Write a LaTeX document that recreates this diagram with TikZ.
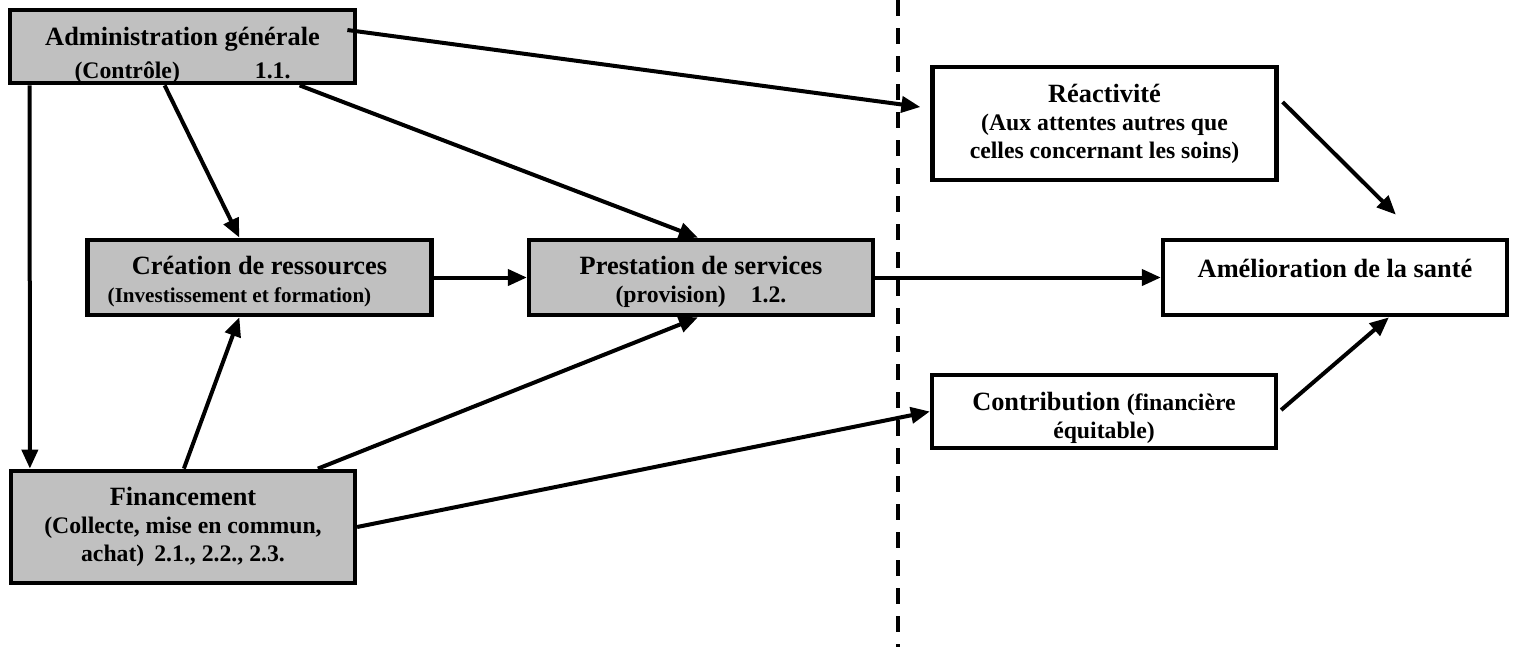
\documentclass[tikz,border=0pt]{standalone}
\usepackage{fontspec}
\setmainfont{Liberation Serif}
\usepackage{tikz}
\usetikzlibrary{arrows.meta,calc}
\definecolor{gris}{HTML}{C0C0C0}
\newcommand\sousfont{\fontsize{13.5}{16}\selectfont}
% texte abaisse dans sa boite
\newcommand\abaisse[2]{\raisebox{-#1}[\height][\depth]{\begin{tabular}{@{}c@{}}#2\end{tabular}}}
\tikzset{
 boite/.style={draw=black,line width=0.85mm,align=center,minimum width=68.8mm,
   minimum height=15.1mm,inner sep=2pt,fill=white,font=\bfseries\fontsize{15}{16}\selectfont},
 grisbox/.style={boite,fill=gris},
 fleche/.style={-{Triangle[length=3.8mm,width=3.2mm]},line width=0.8mm,draw=black},
 tirets/.style={line width=0.85mm,dash pattern=on 3.2mm off 2.4mm}
}
\begin{document}
\begin{tikzpicture}[x=0.2mm,y=-0.2mm]
 \useasboundingbox (0,0) rectangle (1517,647);
 % frontiere
 \coordinate (haut) at (898,0);
 \coordinate (bas) at (898,647);
 \draw[tirets] (haut) -- (bas);
 % fonctions
 \node[grisbox,minimum width=69.1mm,minimum height=14.7mm] (admin) at (182.5,46.5)
   {\abaisse{2mm}{Administration générale\\[3pt]{\sousfont (Contrôle)\hspace{15mm}1.1.}}};
 \node[grisbox] (crea) at (259.5,277.5)
   {\abaisse{1mm}{Création de ressources\\{\fontsize{12}{16}\selectfont (Investissement et formation)\hspace*{8mm}}}};
 \node[grisbox] (prest) at (701,277.5)
   {\abaisse{1mm}{Prestation de services\\{\sousfont (provision)\hspace{5mm}1.2.}}};
 \node[grisbox,minimum height=22.5mm] (fin) at (183,527)
   {Financement\\{\sousfont (Collecte, mise en commun,}\\{\sousfont achat)\hspace{2mm}2.1., 2.2., 2.3.}};
 % objectifs
 \node[boite,minimum height=22.7mm] (reac) at (1104.5,123.5)
   {Réactivité\\{\sousfont (Aux attentes autres que}\\{\sousfont celles concernant les soins)}};
 \node[boite] (amel) at (1335,277.5) {Amélioration de la santé\\[-5pt]\mbox{}};
 \node[boite,minimum height=14.7mm] (contrib) at (1104,411.5)
   {\abaisse{1.4mm}{Contribution {\sousfont (financière}\\{\sousfont équitable)}}};
 % liens
 \draw[fleche] ($(admin.south west)+(22,0)$) -- ($(fin.north west)+(21,0)$);
 \draw[fleche] ($(admin.south west)+(157,0)$) -- ($(crea.north west)+(154,0)$);
 \draw[fleche] ($(admin.south west)+(292,0)$) -- ($(prest.north west)+(171,0)$);
 \draw[fleche] ($(admin.east)+(-10,-16.5)$) -- ($(reac.west)+(-10,-16.5)$);
 \draw[fleche] (crea) -- (prest);
 \draw[fleche] ($(fin.north west)+(175,0)$) -- ($(crea.south west)+(154,0)$);
 \draw[fleche] ($(fin.north west)+(309,0)$) -- ($(prest.south west)+(171,0)$);
 \draw[fleche] (fin.east) -- (contrib.west);
 \draw[fleche] (prest) -- (amel);
 \draw[fleche] ($(reac.east)+(4,-21.5)$) -- ($(amel.north west)+(235,-23)$);
 \draw[fleche] ($(contrib.east)+(3,-1.5)$) -- ($(amel.south west)+(228,0)$);
\end{tikzpicture}
\end{document}
